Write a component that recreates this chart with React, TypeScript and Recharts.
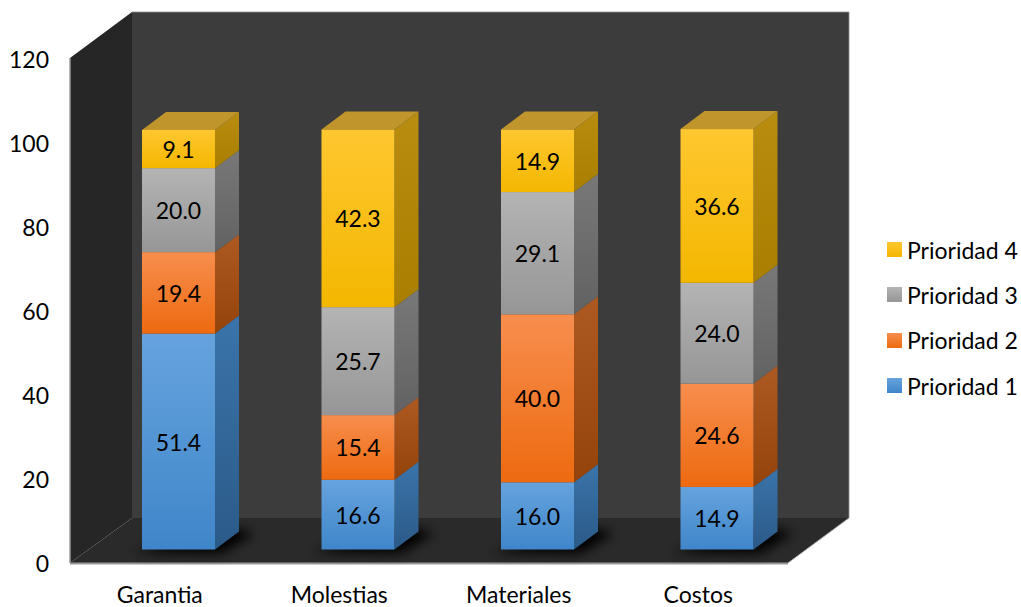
import React from 'react';
import { BarChart, Bar, XAxis, YAxis, Legend, LabelList } from 'recharts';

const categories = ['Garantia', 'Molestias', 'Materiales', 'Costos'];
const prioridad1 = [51.4, 16.6, 16.0, 14.9];
const prioridad2 = [19.4, 15.4, 40.0, 24.6];
const prioridad3 = [20.0, 25.7, 29.1, 24.0];
const prioridad4 = [9.1, 42.3, 14.9, 36.6];
const yTicks = [0, 20, 40, 60, 80, 100, 120];

const seriesKeys = ['Prioridad 1', 'Prioridad 2', 'Prioridad 3', 'Prioridad 4'];
const seriesValues = [prioridad1, prioridad2, prioridad3, prioridad4];

const rows = categories.map((name, i) => {
  const row: Record<string, string | number> = { name };
  seriesKeys.forEach((key, s) => { row[key] = seriesValues[s][i]; });
  return row;
});

// Colour ramps per series: front top, front bottom, side top, side bottom, cap
const ramps = [
  ['#66a3de', '#3f86c9', '#3a74aa', '#2b5a88', '#4a86bd'],
  ['#f78e4e', '#ed6a10', '#ad5a22', '#94430b', '#b8622a'],
  ['#b4b4b4', '#969696', '#787878', '#626262', '#8a8a8a'],
  ['#ffc730', '#f3b700', '#b98d10', '#a87f00', '#c0962c'],
];

// Depth of the box projection and of the bars within it
const DEPTH_X = 24;
const DEPTH_Y = 18;
const BAR_SHIFT_X = 19;
const BAR_SHIFT_Y = -13.5;

// Plot rectangle of the front plane
const LEFT = 70;
const RIGHT = 788;
const TOP = 59;
const BOTTOM = 563;
const WALL_X = 62;
const WALL_Y = 45;
const LEGEND_WIDTH = 134;
const FONT = 'Lato, Carlito, "Open Sans", sans-serif';
const FONT_SIZE = 23;

function Walls() {
  const backLeft = LEFT + WALL_X;
  const backTop = TOP - WALL_Y - 2;
  const backBottom = BOTTOM - WALL_Y;
  return (
    <g>
      <polygon
        points={`${backLeft},${backTop} 849,${backTop} 849,${backBottom} ${backLeft},${backBottom}`}
        fill="#3c3c3c"
      />
      <polyline
        points={`${backLeft},${backTop} 849,${backTop} 849,${backBottom}`}
        fill="none"
        stroke="#8d8d8d"
        strokeWidth={0.8}
      />
      <polygon
        points={`${LEFT},${TOP - 1} ${backLeft},${backTop} ${backLeft},${backBottom} ${LEFT},${BOTTOM}`}
        fill="#262626"
      />
      <polygon
        points={`${LEFT},${BOTTOM} ${backLeft},${backBottom} 849,${backBottom} ${RIGHT},${BOTTOM}`}
        fill="#2a2a2a"
      />
      <line x1={LEFT} y1={TOP - 1} x2={LEFT} y2={BOTTOM} stroke="#9a9a9a" strokeWidth={1.5} />
      <line x1={LEFT} y1={BOTTOM + 0.5} x2={RIGHT} y2={BOTTOM + 0.5} stroke="#9a9a9a" strokeWidth={2} />
      <line x1={RIGHT} y1={BOTTOM} x2={849} y2={backBottom} stroke="#b0b0b0" strokeWidth={1} />
    </g>
  );
}

function makeBox(seriesIndex: number) {
  return function Box(props: any) {
    const { x, y, width, height } = props;
    const left = x + BAR_SHIFT_X;
    const right = left + width;
    const top = y + BAR_SHIFT_Y;
    const bottom = top + height;
    return (
      <g>
        {seriesIndex === 0 && (
          <polygon
            points={`${left - 10},${bottom + 3} ${right + 6},${bottom + 4} ${right + DEPTH_X + 16},${bottom - DEPTH_Y + 2} ${right + 10},${bottom - DEPTH_Y - 6}`}
            fill="#050505"
            filter="url(#floorShadow)"
          />
        )}
        <polygon
          points={`${right},${top} ${right + DEPTH_X},${top - DEPTH_Y} ${right + DEPTH_X},${bottom - DEPTH_Y} ${right},${bottom}`}
          fill={`url(#side${seriesIndex})`}
        />
        {seriesIndex === seriesKeys.length - 1 && (
          <polygon
            points={`${left},${top} ${left + DEPTH_X},${top - DEPTH_Y} ${right + DEPTH_X},${top - DEPTH_Y} ${right},${top}`}
            fill={ramps[seriesIndex][4]}
          />
        )}
        <rect x={left} y={top} width={width} height={height} fill={`url(#front${seriesIndex})`} />
      </g>
    );
  };
}

function ValueLabel(props: any) {
  const { x, y, width, height, value } = props;
  return (
    <text
      x={x + width / 2 + BAR_SHIFT_X}
      y={y + height / 2 + BAR_SHIFT_Y}
      textAnchor="middle"
      dominantBaseline="central"
      fontFamily={FONT}
      fontSize={FONT_SIZE}
      fill="#000"
    >
      {Number(value).toFixed(1)}
    </text>
  );
}

function PriorityLegend() {
  const order = seriesKeys.map((key, i) => ({ key, i })).reverse();
  return (
    <div style={{ fontFamily: FONT, fontSize: FONT_SIZE, color: '#000' }}>
      {order.map(({ key, i }) => (
        <div key={key} style={{ display: 'flex', alignItems: 'center', height: 45.3 }}>
          <span
            style={{
              width: 15,
              height: 15,
              marginRight: 5,
              background: `linear-gradient(${ramps[i][0]}, ${ramps[i][1]})`,
            }}
          />
          <span style={{ whiteSpace: 'nowrap' }}>{key}</span>
        </div>
      ))}
    </div>
  );
}

export default function App() {
  return (
    <div style={{ position: 'absolute', left: 0, top: 0, width: 1021, height: 607, overflow: 'hidden', background: '#fff' }}>
      <BarChart
        width={1021}
        height={607}
        data={rows}
        margin={{ top: TOP, right: 1021 - RIGHT - LEGEND_WIDTH, bottom: 0, left: 0 }}
        barCategoryGap={0}
      >
        <defs>
          {ramps.map((r, i) => (
            <React.Fragment key={i}>
              <linearGradient id={`front${i}`} x1="0" y1="0" x2="0" y2="1">
                <stop offset="0%" stopColor={r[0]} />
                <stop offset="100%" stopColor={r[1]} />
              </linearGradient>
              <linearGradient id={`side${i}`} x1="0" y1="0" x2="0" y2="1">
                <stop offset="0%" stopColor={r[2]} />
                <stop offset="100%" stopColor={r[3]} />
              </linearGradient>
            </React.Fragment>
          ))}
          <filter id="floorShadow" x="-30%" y="-60%" width="160%" height="220%">
            <feGaussianBlur stdDeviation="6" />
          </filter>
        </defs>
        <Walls />
        <XAxis
          dataKey="name"
          axisLine={false}
          tickLine={false}
          height={44}
          tickSize={0}
          tickMargin={24}
          tick={{ fontFamily: FONT, fontSize: FONT_SIZE, fill: '#000' }}
        />
        <YAxis
          domain={[0, 120]}
          ticks={yTicks}
          width={LEFT}
          axisLine={false}
          tickLine={false}
          tickSize={0}
          tickMargin={21}
          tick={{ fontFamily: FONT, fontSize: FONT_SIZE, fill: '#000', dy: 1 }}
        />
        <Legend
          content={<PriorityLegend />}
          layout="vertical"
          align="right"
          verticalAlign="top"
          wrapperStyle={{ position: 'absolute', left: 887, top: 227, width: LEGEND_WIDTH }}
        />
        {seriesKeys.map((key, i) => (
          <Bar
            key={key}
            dataKey={key}
            stackId="total"
            barSize={73}
            fill={ramps[i][1]}
            shape={makeBox(i)}
            isAnimationActive={false}
          >
            <LabelList dataKey={key} content={<ValueLabel />} />
          </Bar>
        ))}
      </BarChart>
    </div>
  );
}
